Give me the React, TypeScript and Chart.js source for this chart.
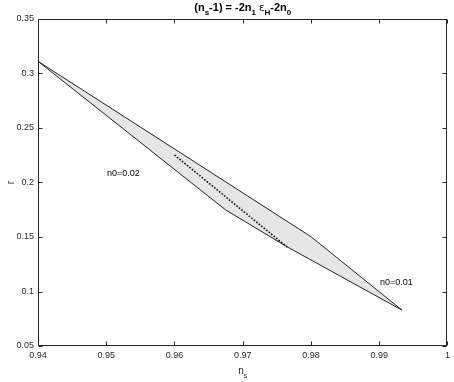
import React, { useEffect, useRef } from 'react';
import { Chart, registerables } from 'chart.js';

Chart.register(...registerables);

const nsTicks = [0.94, 0.95, 0.96, 0.97, 0.98, 0.99, 1];
const nsTickLabels = ['0.94', '0.95', '0.96', '0.97', '0.98', '0.99', '1'];
const rTicks = [0.05, 0.1, 0.15, 0.2, 0.25, 0.3, 0.35];
const rTickLabels = ['0.05', '0.1', '0.15', '0.2', '0.25', '0.3', '0.35'];

// outer boundary of the allowed region (closed polygon)
const regionNs = [0.94, 0.98, 0.9933, 0.9765, 0.9675, 0.94];
const regionR = [0.3112, 0.1503, 0.083, 0.141, 0.1748, 0.3112];

// dotted line inside the region
const dottedNs = [0.96, 0.9765];
const dottedR = [0.2252, 0.1408];

const annotationText = ['n0=0.02', 'n0=0.01'];
const annotationNs = [0.9501, 0.9901];
const annotationR = [0.2087, 0.1087];

const FONT = '"Liberation Sans", Arial, Helvetica, sans-serif';
const AXIS_COLOR = '#262626';

// title pieces: [text, kind] kind: 'm' main bold, 's' subscript bold, 'g' greek normal
const titleParts: [string, string][] = [
  ['(n', 'm'], ['s', 's'], ['-1) = -2n', 'm'], ['1', 's'],
  [' ', 'm'], ['\u03B5', 'g'], ['H', 's'], ['-2n', 'm'], ['0', 's'],
];

const framePlugin = {
  id: 'frameAndText',
  afterDraw(chart: any) {
    const { ctx, chartArea, scales } = chart;
    const { left, right, top, bottom } = chartArea;
    const xs = scales.x;
    const ys = scales.y;
    ctx.save();
    ctx.strokeStyle = AXIS_COLOR;
    ctx.lineWidth = 1;
    const L = Math.round(left) + 0.5;
    const R = Math.round(right) - 0.5;
    const T = Math.round(top) + 0.5;
    const B = Math.round(bottom) - 0.5;
    ctx.strokeRect(L, T, R - L, B - T);
    const tl = 4;
    ctx.beginPath();
    nsTicks.forEach((v) => {
      const px = Math.round(xs.getPixelForValue(v)) + 0.5;
      ctx.moveTo(px, B); ctx.lineTo(px, B - tl);
      ctx.moveTo(px, T); ctx.lineTo(px, T + tl);
    });
    rTicks.forEach((v) => {
      const py = Math.round(ys.getPixelForValue(v)) + 0.5;
      ctx.moveTo(L, py); ctx.lineTo(L + tl, py);
      ctx.moveTo(R, py); ctx.lineTo(R - tl, py);
    });
    ctx.stroke();

    // annotations
    ctx.fillStyle = '#000';
    ctx.font = `9px ${FONT}`;
    ctx.textAlign = 'left';
    ctx.textBaseline = 'middle';
    annotationText.forEach((t, i) => {
      ctx.fillText(t, xs.getPixelForValue(annotationNs[i]), ys.getPixelForValue(annotationR[i]));
    });

    // title with subscripts
    const cx = (left + right) / 2;
    const fonts: Record<string, string> = {
      m: `bold 11px ${FONT}`,
      s: `bold 8px ${FONT}`,
      g: `10px "DejaVu Sans", ${FONT}`,
    };
    let total = 0;
    titleParts.forEach(([t, k]) => {
      ctx.font = fonts[k];
      total += ctx.measureText(t).width;
    });
    let x = cx - total / 2;
    ctx.textAlign = 'left';
    ctx.textBaseline = 'alphabetic';
    ctx.fillStyle = '#000';
    titleParts.forEach(([t, k]) => {
      ctx.font = fonts[k];
      ctx.fillText(t, x, k === 's' ? 14.5 : 11);
      x += ctx.measureText(t).width;
    });

    // x axis title n_s
    ctx.fillStyle = AXIS_COLOR;
    ctx.font = `10px ${FONT}`;
    const nW = ctx.measureText('n').width;
    ctx.font = `7px ${FONT}`;
    const sW = ctx.measureText('s').width;
    const xx = cx - (nW + sW) / 2;
    ctx.font = `10px ${FONT}`;
    ctx.fillText('n', xx, 374);
    ctx.font = `7px ${FONT}`;
    ctx.fillText('s', xx + nW, 377.5);

    // y axis title r
    ctx.save();
    ctx.translate(11, (top + bottom) / 2);
    ctx.rotate(-Math.PI / 2);
    ctx.font = `10px ${FONT}`;
    ctx.textAlign = 'center';
    ctx.textBaseline = 'middle';
    ctx.fillText('r', 0, 0);
    ctx.restore();

    ctx.restore();
  },
};

export default function App() {
  const ref = useRef<HTMLCanvasElement | null>(null);
  useEffect(() => {
    if (!ref.current) return;
    const chart = new Chart(ref.current, {
      type: 'scatter',
      data: {
        datasets: [
          {
            data: dottedNs.map((v, i) => ({ x: v, y: dottedR[i] })),
            showLine: true,
            borderColor: '#000',
            borderWidth: 1.6,
            borderDash: [1.5, 1.7],
            pointRadius: 0,
            fill: false,
          },
          {
            data: regionNs.map((v, i) => ({ x: v, y: regionR[i] })),
            showLine: true,
            borderColor: '#222222',
            borderWidth: 1,
            backgroundColor: '#e6e6e6',
            pointRadius: 0,
            fill: 'shape',
            tension: 0,
          },
        ],
      },
      options: {
        animation: false,
        responsive: false,
        events: [],
        layout: { padding: { top: 19, right: 2, left: 0, bottom: 0 } },
        plugins: { legend: { display: false }, tooltip: { enabled: false }, title: { display: false } },
        scales: {
          x: {
            type: 'linear',
            min: 0.94,
            max: 1,
            afterBuildTicks: (s: any) => { s.ticks = nsTicks.map((v) => ({ value: v })); },
            afterFit: (s: any) => { s.height = 36; },
            grid: { display: false, drawTicks: false },
            border: { display: false },
            ticks: {
              padding: 4,
              maxRotation: 0,
              autoSkip: false,
              color: AXIS_COLOR,
              font: { family: FONT, size: 9 },
              callback: (_v: any, i: number) => nsTickLabels[i],
            },
          },
          y: {
            type: 'linear',
            min: 0.05,
            max: 0.35,
            afterBuildTicks: (s: any) => { s.ticks = rTicks.map((v) => ({ value: v })); },
            afterFit: (s: any) => { s.width = 38; },
            grid: { display: false, drawTicks: false },
            border: { display: false },
            ticks: {
              padding: 4,
              autoSkip: false,
              color: AXIS_COLOR,
              font: { family: FONT, size: 9 },
              callback: (_v: any, i: number) => rTickLabels[i],
            },
          },
        },
      },
      plugins: [framePlugin],
    });
    return () => chart.destroy();
  }, []);
  return (
    <div style={{ position: 'absolute', left: 0, top: 0, width: 454, height: 382, background: '#fff' }}>
      <canvas ref={ref} width={454} height={382} style={{ width: 454, height: 382 }} />
    </div>
  );
}
